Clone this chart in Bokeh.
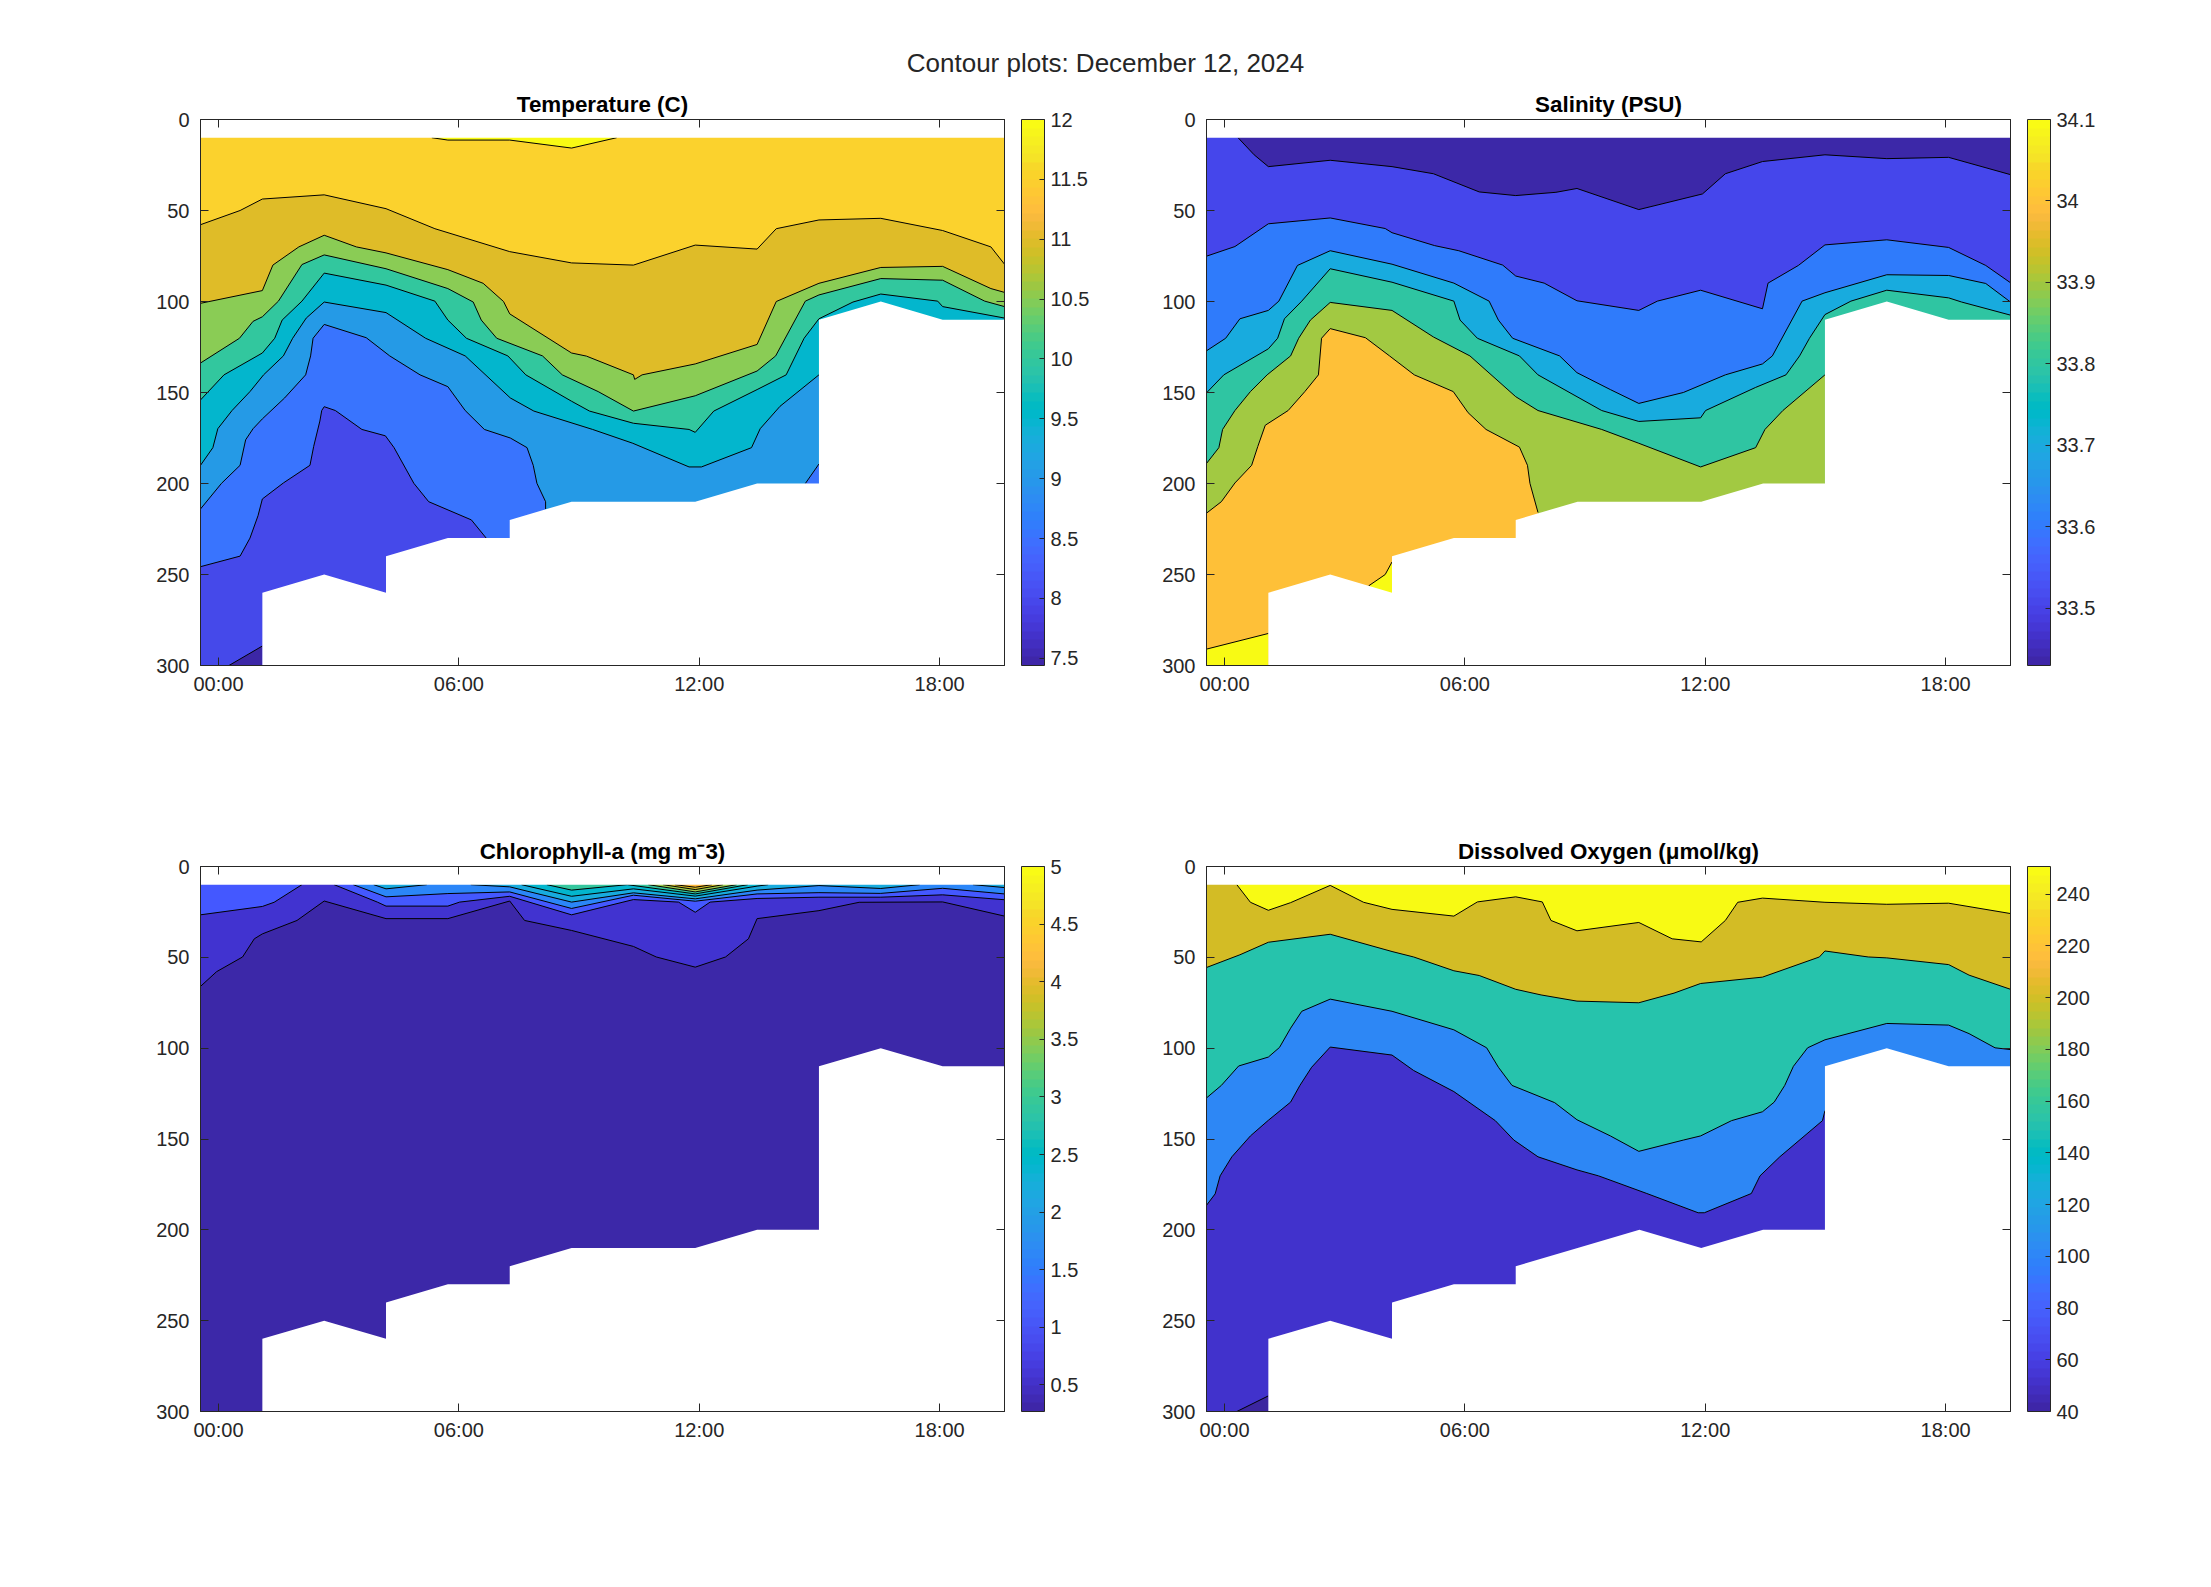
from bokeh.embed import file_html
from bokeh.resources import INLINE
from bokeh.plotting import figure
from bokeh.layouts import column, row
from bokeh.models import (Range1d, FixedTicker, LinearAxis, ColorBar, LinearColorMapper)
import numpy as np

# ---------- station times (hours) and sea-floor profile ----------
station_hours = [-0.45, 1.094, 2.638, 4.181, 5.725, 7.269, 8.813, 10.357, 11.9, 13.444, 14.988, 16.532, 18.076, 19.62]
floor_st = [1, 1, 2, 3, 3, 4, 5, 5, 6, 7, 8, 9, 10, 10, 11, 12, 13]
floor_d = [300, 260, 250, 260, 240, 230, 230, 220, 210, 210, 210, 200, 200, 110, 100, 110, 110]
floor_do_d = [300, 260, 250, 260, 240, 230, 230, 220, 210, 200, 210, 200, 200, 110, 100, 110, 110]

x_ticks = [0, 6, 12, 18]
x_tick_labels = ["00:00", "06:00", "12:00", "18:00"]
y_ticks = [0, 50, 100, 150, 200, 250, 300]

# ---------- Temperature contours ----------
T120_st = [3.74, 4, 5, 6, 6.73]
T120_d = [10, 11.3, 11.3, 15.7, 10]
T115_st = [0, .64, 1, 2, 3, 3.79, 5, 6, 7, 8, 9, 9.31, 10, 11, 12, 12.78, 13]
T115_d = [57.8, 50, 43.7, 41.4, 49, 60, 72.6, 78.8, 80, 69, 71.2, 60, 55.2, 54.3, 61, 70, 79.5]
T110_st = [0, 1, 1.17, 1.59, 2, 2.52, 3, 4, 4.57, 4.9, 5, 6, 6.24, 7, 7.02, 7.14, 8, 9, 9.31, 10, 11, 12, 12.78, 13]
T110_d = [101, 94, 80, 70, 63.6, 70, 73.3, 82.5, 90, 100, 106.8, 128.3, 130, 140.3, 142.8, 140.3, 134.3, 123.6, 100, 90, 81.3, 80.7, 92.9, 95]
T105_st = [0, .63, .85, 1, 1.26, 1.64, 2, 3, 4, 4.41, 4.54, 4.79, 5.53, 5.85, 6.43, 7, 8, 9, 9.3, 9.78, 10, 11, 12, 12.68, 13]
T105_d = [133.8, 120.2, 110.9, 108.4, 99.8, 79.7, 74.4, 82, 92.9, 100.3, 110.2, 120.2, 129.9, 140.3, 149.5, 160.2, 151.8, 138.2, 129.9, 99.8, 96.4, 87.4, 88.3, 99.8, 102.8]
T100_st = [0, .38, 1, 1.2, 1.32, 1.64, 2, 3, 3.79, 4, 4.3, 4.97, 5.26, 6, 6.29, 7, 7.9, 8, 8.3, 9, 9.47, 9.76, 10, 10.55, 11, 11.92, 12, 13]
T100_d = [154.1, 140.3, 128.3, 120.2, 110.2, 99.8, 84.4, 91, 99.8, 110.2, 120.2, 129.9, 140.3, 154.8, 160.2, 166.9, 170.3, 171.9, 160.2, 148.4, 140.3, 120.2, 109.5, 100.3, 95.9, 99.8, 102.8, 109.1]
T95_st = [0, .2, .28, .51, .8, 1.02, 1.34, 1.49, 1.71, 2, 3, 3.64, 4.28, 5.01, 5.39, 6.34, 6.99, 7.9, 8.1, 8.91, 9.05, 9.37, 10]
T95_d = [190, 180.3, 169.9, 159.9, 149.5, 140.3, 129.9, 120.2, 109.1, 100.3, 106.1, 120.2, 129.9, 153, 160.2, 170.3, 177.9, 190.9, 190.9, 180.3, 169.9, 157.6, 140.3]
T90_st = [0, .34, .64, .73, .85, 1, 1.36, 1.7, 1.78, 1.82, 2, 2.68, 3.06, 3.55, 4, 4.28, 4.59, 5.01, 5.28, 5.38, 5.44, 5.58, 5.58]
T90_d = [214, 199.9, 190, 176, 169.9, 164.5, 153, 140.3, 129.9, 120.2, 112.6, 119.9, 129.9, 140.3, 146.8, 159.9, 170.3, 175, 180.3, 190, 199.9, 210, 214]
T90b_st = [9.78, 10]
T90b_d = [200, 189.3]
T85_st = [0, .64, .8, .93, 1, 1.34, 1.77, 1.83, 1.93, 1.96, 2, 2.18, 2.61, 2.99, 3.13, 3.45, 3.69, 4.38, 4.62]
T85_d = [245.7, 239.9, 230, 217.7, 208.5, 199.7, 190, 179.6, 165.7, 159.9, 157.8, 159.9, 170.3, 173.8, 180.3, 199.9, 210, 220, 230]
T80_st = [.46, 1]
T80_d = [300, 289.3]

# ---------- Salinity contours ----------
S335_st = [.51, .77, 1, 2, 3, 3.67, 4.41, 5, 5.65, 5.99, 6.99, 8.02, 8.39, 8.99, 10, 11, 12, 13]
S335_d = [10, 19.4, 25.9, 22.4, 25.9, 29.8, 39.8, 41.8, 40, 37.9, 49.5, 40.9, 29.8, 23.1, 19.4, 21.5, 20.8, 30.3]
S336_st = [0, .46, 1, 2, 2.89, 3, 3.69, 4.08, 4.79, 5, 5.46, 5.99, 6.99, 7.29, 7.99, 8.99, 9.08, 9.57, 10, 11, 12, 12.6, 13]
S336_d = [75.1, 69.8, 57.3, 54.1, 59.9, 62.2, 69.3, 72.1, 80, 86, 89.9, 99.6, 104.9, 99.8, 93.8, 104, 89.9, 80.2, 68.9, 66.1, 70.3, 80.2, 89.7]
S337_st = [0, .31, .54, 1, 1.17, 1.47, 2, 3, 4, 4.57, 4.72, 4.95, 5.71, 5.99, 6.53, 6.99, 7.71, 8.39, 8.99, 9.15, 9.63, 10, 11, 12, 12.6, 13]
S337_d = [127.1, 120.2, 109.5, 104.9, 99.8, 80.2, 72.1, 79.5, 89.9, 99.8, 110.2, 120.2, 129.9, 139.1, 148.4, 156, 150, 140.3, 134.3, 129.9, 99.8, 95.2, 85.3, 85.7, 90.1, 100.3]
S338_st = [0, .28, 1, 1.15, 1.26, 1.54, 2, 3, 4, 4.1, 4.38, 5.06, 5.36, 6.39, 6.99, 7.99, 8.07, 8.88, 9.37, 9.59, 9.75, 10, 10.42, 11, 12, 12.21, 13]
S338_d = [150.2, 140.3, 126, 120.2, 109.5, 99.8, 82, 89.4, 99.8, 110.2, 120.2, 129.9, 140.3, 159.9, 165.9, 163.9, 159.9, 147.2, 140.3, 129.9, 120.2, 107.2, 99.8, 93.8, 98, 100.3, 107.5]
S339_st = [0, .2, .26, .46, .71, .98, 1.36, 1.49, 1.68, 2, 3, 3.67, 4.26, 5, 5.36, 6.39, 6.99, 7.99, 8.88, 9.03, 9.32, 10]
S339_d = [189, 180.3, 170.3, 159.9, 149.5, 140.3, 129.9, 120.2, 110.2, 100.5, 104.9, 119.5, 129.9, 152.3, 159.9, 170.3, 177.9, 190.9, 180.3, 170.3, 159.9, 140.3]
S340_st = [0, .24, .46, .73, .83, .95, 1.32, 1.59, 1.81, 1.86, 2, 2.57, 2.96, 3.36, 3.99, 4.23, 4.52, 5.06, 5.19, 5.23, 5.36]
S340_d = [216.3, 210, 199.7, 190, 179.6, 168, 159.9, 149.5, 140.3, 120.2, 114.9, 119.9, 129.9, 140.3, 149.5, 161.1, 170.3, 180, 190, 199.9, 215.9]
S341_st = [0, 1]
S341_d = [291, 282.4]
S341b_st = [2.62, 2.89, 3]
S341b_d = [256.3, 250, 243.1]

# ---------- Chlorophyll contours ----------
C05_st = [0, .26, .68, .87, 1, 1.56, 2, 3, 4, 5, 5.24, 6, 7, 7.37, 8, 8.49, 8.86, 9, 10, 10.65, 12, 13]
C05_d = [66, 57.9, 49.8, 39.8, 37.1, 29.7, 19, 28.7, 28.7, 19, 29.7, 35.2, 44, 49.8, 55.4, 49.8, 39.8, 28.7, 24.3, 19.7, 19.5, 27.3]
C10a_st = [0, 1, 1.19, 1.64]
C10a_d = [26.6, 22, 19.7, 10]
C10b_st = [2.16, 2.86, 3, 4, 4.19, 5, 6, 7, 7.73, 8, 8.24, 9, 10, 11, 12, 13]
C10b_d = [10, 19.6, 21.8, 21.8, 19.6, 16.4, 26.6, 18.2, 19.6, 25.2, 19.6, 17.6, 16.9, 16.9, 15.6, 18.3]
C15_st = [2.47, 3, 4, 5, 6, 7, 8, 9, 10, 11, 12, 13]
C15_d = [10, 16.7, 14.9, 14, 23.1, 15.8, 19.1, 15.1, 14.4, 14.8, 12, 15.1]
C20a_st = [2.8, 3, 3.66]
C20a_d = [10, 12.3, 10]
C20b_st = [4.37, 5, 6, 7, 8, 9, 10, 11, 11.63]
C20b_d = [10, 11.2, 19.6, 14.5, 17.8, 13, 10.5, 12.1, 10]
C20c_st = [12.49, 13]
C20c_d = [10, 11.6]
C25_st = [5.19, 6, 7, 8, 9, 9.18]
C25_d = [10, 16.4, 12.3, 16.3, 10.8, 10]
C30_st = [5.6, 6, 6.9, 8, 8.85]
C30_d = [10, 13, 10, 15.1, 10]
C35_st = [7.24, 8, 8.67]
C35_d = [10, 14, 10]
C40_st = [7.48, 8, 8.45]
C40_d = [10, 12.7, 10]
C45_st = [7.67, 8, 8.27]
C45_d = [10, 11.4, 10]

# ---------- Dissolved oxygen contours ----------
D200_st = [.49, .71, 1, 1.36, 2, 2.54, 3, 4, 4.38, 5, 5.43, 5.57, 5.99, 6.99, 7.53, 8, 8.39, 8.59, 8.99, 10, 11, 12, 13]
D200_d = [10, 19.7, 24.1, 19.9, 10.4, 19.7, 23.6, 27.3, 19.5, 16.7, 19.5, 29.7, 35.4, 30.8, 39.8, 41.5, 29.7, 19.7, 17.4, 19.7, 20.8, 20.2, 25.9]
D150_st = [0, .54, 1, 2, 3, 3.35, 4, 4.41, 5, 5.41, 5.99, 6.99, 7.56, 7.99, 8.99, 9.91, 10, 10.7, 11, 12, 12.33, 13]
D150_d = [55.6, 48.6, 41.7, 37.3, 46.8, 49.8, 57.4, 60, 67.6, 70.7, 74.1, 75, 69.7, 64.4, 60.9, 49.8, 46.5, 49.8, 50.3, 54, 59.8, 67.6]
D100_st = [0, .24, .52, 1, 1.18, 1.36, 1.54, 2, 3, 4, 4.53, 4.72, 4.94, 5.63, 5.99, 6.53, 6.99, 7.71, 7.99, 8.49, 8.99, 9.18, 9.35, 9.49, 9.72, 10, 11, 12, 12.33, 12.75, 13]
D100_d = [127.4, 120.5, 109.8, 104.9, 99.6, 89, 79.7, 73, 79.7, 89.9, 99.8, 110.5, 120.5, 130, 139.4, 148.3, 156.8, 150.6, 148.3, 139.9, 135, 129.7, 120.5, 110, 99.8, 95.4, 86.4, 87.3, 92, 99.8, 100.8]
D50_st = [0, .14, .22, .41, .71, 1, 1.36, 1.51, 1.7, 2, 3, 3.35, 4, 4.67, 4.97, 5.36, 5.99, 6.34, 7.12, 7.95, 8.05, 8.81, 8.95, 9.27, 9.96, 10]
D50_d = [186.5, 180.2, 170.3, 159.8, 148.3, 139.7, 129.7, 120.5, 110.5, 99.4, 103.8, 112.3, 123.9, 139.9, 150.6, 159.8, 167, 170.3, 180, 190.6, 190.6, 180, 170.3, 159.8, 139.9, 134.4]
D40_st = [.49, 1]
D40_d = [300, 291.4]

# ---------- colours ----------
T_base = "#FBD22D"
T_yellow = "#F8FA14"
T_olive = "#DFBC28"
T_green = "#8ACC55"
T_teal = "#32C79E"
T_cyan = "#03B6CD"
T_lightblue = "#259AE6"
T_blue = "#3974FE"
T_indigo = "#4549EA"
T_dark = "#3C27A6"

S_base = "#4546EB"
S_dark = "#3C28A8"
S_blue = "#2F7BFB"
S_light = "#18ABDE"
S_teal = "#2FC5A2"
S_green = "#A2C942"
S_orange = "#FEC038"
S_yellow = "#F8FA14"

C_dark = "#3C28A8"
C_indigo = "#4133D0"
C_blue = "#4458FF"
C_mid = "#2B86F8"
C_light = "#18ABDE"
C_cyan = "#03B6CD"
C_teal = "#35C79E"
C_green = "#9CCB4C"
C_olive = "#D4BC25"
C_orange = "#FDB83B"

D_base = "#D3BC25"
D_yellow = "#F8FA14"
D_teal = "#26C3AC"
D_blue = "#2D87F5"
D_indigo = "#4132CC"
D_dark = "#3C26A0"

parula_rgb = [
    (.2422, .1504, .6603), (.2504, .1650, .7076), (.2578, .1818, .7511), (.2647, .1978, .7952), (.2706, .2147, .8364),
    (.2751, .2342, .8710), (.2783, .2559, .8991), (.2803, .2782, .9221), (.2813, .3006, .9414), (.2810, .3228, .9579),
    (.2795, .3447, .9717), (.2760, .3667, .9829), (.2699, .3892, .9906), (.2602, .4123, .9952), (.2440, .4358, .9988),
    (.2206, .4603, .9973), (.1963, .4847, .9892), (.1834, .5074, .9798), (.1786, .5289, .9682), (.1764, .5499, .9520),
    (.1687, .5703, .9359), (.1540, .5902, .9218), (.1460, .6091, .9079), (.1380, .6276, .8973), (.1248, .6459, .8883),
    (.1113, .6635, .8763), (.0952, .6798, .8598), (.0689, .6948, .8394), (.0297, .7082, .8163), (.0036, .7203, .7917),
    (.0067, .7312, .7660), (.0433, .7411, .7394), (.0964, .7500, .7120), (.1408, .7584, .6842), (.1717, .7670, .6554),
    (.1938, .7758, .6251), (.2161, .7843, .5923), (.2470, .7918, .5567), (.2906, .7973, .5188), (.3406, .8008, .4789),
    (.3909, .8029, .4354), (.4456, .8024, .3909), (.5044, .7993, .3480), (.5616, .7924, .3037), (.6174, .7815, .2593),
    (.6720, .7793, .2227), (.7242, .7698, .1910), (.7738, .7598, .1646), (.8203, .7498, .1535), (.8634, .7406, .1596),
    (.9035, .7330, .1774), (.9393, .7288, .2100), (.9728, .7298, .2394), (.9956, .7434, .2371), (.9970, .7659, .2199),
    (.9952, .7861, .1991), (.9892, .8086, .1827), (.9786, .8288, .1657), (.9676, .8490, .1600), (.9610, .8890, .1537),
    (.9597, .9135, .1423), (.9628, .9373, .1265), (.9691, .9606, .1064), (.9769, .9839, .0805)]
parula = ["#%02x%02x%02x" % tuple(int(round(c * 255)) for c in rgb) for rgb in parula_rgb]

# ---------- colour bar scales ----------
T_cb_low, T_cb_high = 7.44, 12.0
T_cb_ticks = [7.5, 8, 8.5, 9, 9.5, 10, 10.5, 11, 11.5, 12]
S_cb_low, S_cb_high = 33.43, 34.1
S_cb_ticks = [33.5, 33.6, 33.7, 33.8, 33.9, 34, 34.1]
C_cb_low, C_cb_high = 0.27, 5.0
C_cb_ticks = [.5, 1, 1.5, 2, 2.5, 3, 3.5, 4, 4.5, 5]
D_cb_low, D_cb_high = 40, 250.7
D_cb_ticks = [40, 60, 80, 100, 120, 140, 160, 180, 200, 220, 240]

FONT = "Liberation Sans"
TXT = "#262626"
TICK_SIZE = "20px"


def to_hours(st):
    return np.interp(st, np.arange(len(station_hours)), station_hours).tolist()


def label(v):
    return ("%g" % v)


def make_panel(title, base, fills, lines, floor_depth, cb, width, height, borders):
    left, right, top, bottom = borders
    p = figure(width=width, height=height, output_backend="svg", toolbar_location=None,
               x_range=Range1d(station_hours[0], station_hours[-1]), y_range=Range1d(300, 0),
               min_border_left=left, min_border_right=right, min_border_top=top, min_border_bottom=bottom,
               background_fill_color="white", border_fill_color="white", tools="")
    p.grid.visible = False
    p.outline_line_color = TXT
    p.outline_line_width = 1
    p.title.text = title
    p.title.align = "center"
    p.title.text_font = FONT
    p.title.text_font_style = "bold"
    p.title.text_font_size = "22.4px"
    p.title.text_color = "black"
    p.title.standoff = 6

    # base colour over the whole water column
    p.patch(to_hours([0, 13, 13, 0]), [0, 0, 300, 300], fill_color=base, line_color=None)
    for mode, st, d, color in fills:
        if mode == "above":
            px, py = st + [st[-1], st[0]], d + [0, 0]
        else:
            px, py = st + [st[-1], st[0]], d + [300, 300]
        p.patch(to_hours(px), py, fill_color=color, line_color=None)
    for st, d in lines:
        p.line(to_hours(st), d, line_color="black", line_width=1)
    # everything outside the sampled water column stays white
    p.patch(to_hours([0, 13, 13, 0]), [0, 0, 10, 10], fill_color="white", line_color=None)
    p.patch(to_hours(floor_st + [13]), floor_depth + [300], fill_color="white", line_color=None)

    xa = p.xaxis[0]
    ya = p.yaxis[0]
    xa.ticker = FixedTicker(ticks=x_ticks)
    xa.major_label_overrides = dict(zip(x_ticks, x_tick_labels))
    ya.ticker = FixedTicker(ticks=y_ticks)
    for a in (xa, ya):
        a.major_tick_in = 8
        a.major_tick_out = 0
        a.minor_tick_line_color = None
        a.major_label_text_font = FONT
        a.major_label_text_font_size = TICK_SIZE
        a.major_label_text_color = TXT
        a.axis_line_color = TXT
        a.major_tick_line_color = TXT
        a.major_label_standoff = 7
    ya.major_label_standoff = 11

    top_ax = LinearAxis(ticker=FixedTicker(ticks=x_ticks), major_tick_in=8, major_tick_out=0,
                        minor_tick_line_color=None, major_label_text_color=None,
                        major_label_text_font_size="1px", major_label_standoff=0,
                        major_label_overrides={t: "" for t in x_ticks},
                        axis_line_color=TXT, major_tick_line_color=TXT)
    right_ax = LinearAxis(ticker=FixedTicker(ticks=y_ticks), major_tick_in=8, major_tick_out=0,
                          minor_tick_line_color=None, major_label_text_color=None,
                          major_label_text_font_size="1px", major_label_standoff=0,
                          major_label_overrides={t: "" for t in y_ticks},
                          axis_line_color=TXT, major_tick_line_color=TXT)
    p.add_layout(top_ax, "above")
    p.add_layout(right_ax, "right")

    low, high, ticks, h = cb
    mapper = LinearColorMapper(palette=parula, low=low, high=high)
    bar = ColorBar(color_mapper=mapper, width=23, height=h, location=(17, 0), padding=0, margin=0,
                   ticker=FixedTicker(ticks=ticks),
                   major_label_overrides={t: label(t) for t in ticks},
                   major_label_text_font=FONT, major_label_text_font_size=TICK_SIZE,
                   major_label_text_color=TXT, label_standoff=6,
                   major_tick_in=5, major_tick_out=0, major_tick_line_color=TXT,
                   minor_tick_line_color=None, bar_line_color=TXT, bar_line_width=1,
                   border_line_color=None, background_fill_color=None)
    p.add_layout(bar, "right")
    return p


p1 = make_panel("Temperature (C)", T_base,
                [("above", T120_st, T120_d, T_yellow), ("below", T115_st, T115_d, T_olive),
                 ("below", T110_st, T110_d, T_green), ("below", T105_st, T105_d, T_teal),
                 ("below", T100_st, T100_d, T_cyan), ("below", T95_st, T95_d, T_lightblue),
                 ("below", T90_st, T90_d, T_blue), ("below", T90b_st, T90b_d, T_blue),
                 ("below", T85_st, T85_d, T_indigo), ("below", T80_st, T80_d, T_dark)],
                [(T120_st, T120_d), (T115_st, T115_d), (T110_st, T110_d), (T105_st, T105_d), (T100_st, T100_d),
                 (T95_st, T95_d), (T90_st, T90_d), (T90b_st, T90b_d), (T85_st, T85_d), (T80_st, T80_d)],
                floor_d, (T_cb_low, T_cb_high, T_cb_ticks, 546), 1150, 694, (200, 146, 33, 115))

p2 = make_panel("Salinity (PSU)", S_base,
                [("above", S335_st, S335_d, S_dark), ("below", S336_st, S336_d, S_blue),
                 ("below", S337_st, S337_d, S_light), ("below", S338_st, S338_d, S_teal),
                 ("below", S339_st, S339_d, S_green), ("below", S340_st, S340_d, S_orange),
                 ("below", S341_st, S341_d, S_yellow), ("below", S341b_st, S341b_d, S_yellow)],
                [(S335_st, S335_d), (S336_st, S336_d), (S337_st, S337_d), (S338_st, S338_d), (S339_st, S339_d),
                 (S340_st, S340_d), (S341_st, S341_d), (S341b_st, S341b_d)],
                floor_d, (S_cb_low, S_cb_high, S_cb_ticks, 546), 1010, 694, (56, 150, 33, 115))

p3 = make_panel("Chlorophyll-a (mg m\u207b3)", C_dark,
                [("above", C05_st, C05_d, C_indigo), ("above", C10a_st, C10a_d, C_blue),
                 ("above", C10b_st, C10b_d, C_blue), ("above", C15_st, C15_d, C_mid),
                 ("above", C20a_st, C20a_d, C_light), ("above", C20b_st, C20b_d, C_light),
                 ("above", C20c_st, C20c_d, C_light), ("above", C25_st, C25_d, C_cyan),
                 ("above", C30_st, C30_d, C_teal), ("above", C35_st, C35_d, C_green),
                 ("above", C40_st, C40_d, C_olive), ("above", C45_st, C45_d, C_orange)],
                [(C05_st, C05_d), (C10a_st, C10a_d), (C10b_st, C10b_d), (C15_st, C15_d), (C20a_st, C20a_d),
                 (C20b_st, C20b_d), (C20c_st, C20c_d), (C25_st, C25_d), (C30_st, C30_d), (C35_st, C35_d),
                 (C40_st, C40_d), (C45_st, C45_d)],
                floor_d, (C_cb_low, C_cb_high, C_cb_ticks, 545), 1150, 691, (200, 146, 86, 60))

p4 = make_panel("Dissolved Oxygen (\u03bcmol/kg)", D_base,
                [("above", D200_st, D200_d, D_yellow), ("below", D150_st, D150_d, D_teal),
                 ("below", D100_st, D100_d, D_blue), ("below", D50_st, D50_d, D_indigo),
                 ("below", D40_st, D40_d, D_dark)],
                [(D200_st, D200_d), (D150_st, D150_d), (D100_st, D100_d), (D50_st, D50_d), (D40_st, D40_d)],
                floor_do_d, (D_cb_low, D_cb_high, D_cb_ticks, 545), 1010, 691, (56, 150, 86, 60))

strip = figure(width=2210, height=86, output_backend="svg", toolbar_location=None, tools="",
               x_range=Range1d(0, 1), y_range=Range1d(0, 1),
               min_border_left=0, min_border_right=0, min_border_top=82, min_border_bottom=0,
               outline_line_color=None, border_fill_color="white")
strip.axis.visible = False
strip.grid.visible = False
strip.title.text = "Contour plots: December 12, 2024"
strip.title.align = "center"
strip.title.text_font = FONT
strip.title.text_font_style = "normal"
strip.title.text_font_size = "26px"
strip.title.text_color = TXT

page = column(strip, row(p1, p2, spacing=0), row(p3, p4, spacing=0), spacing=0)
open("out.html", "w").write(file_html(page, INLINE))
